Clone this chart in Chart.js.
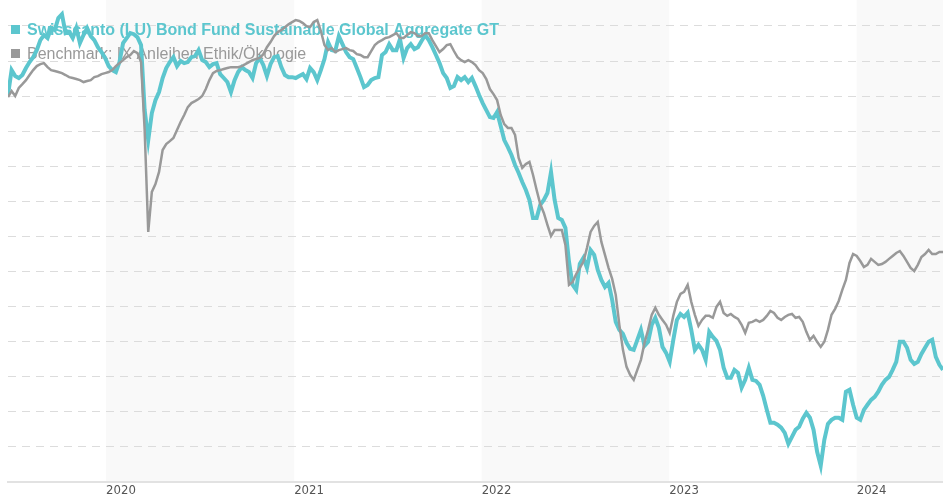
<!DOCTYPE html>
<html>
<head>
<meta charset="utf-8">
<script src="https://cdn.jsdelivr.net/npm/chart.js@4/dist/chart.umd.min.js"></script>
<style>
  html, body { margin: 0; padding: 0; background: #fff; }
  #wrap { position: relative; width: 943px; height: 500px; }
</style>
</head>
<body>
<div id="wrap"><canvas id="chart-1"></canvas></div>
<script>
// weekly observations, first one on 2019-06-24
const startDate = '2019-06-24';
const tickYears = [2020, 2021, 2022, 2023, 2024];
const shadedYears = [2020, 2022, 2024];
const fundLabel = 'Swisscanto (LU) Bond Fund Sustainable Global Aggregate GT';
const benchLabel = 'Benchmark: IX Anleihen Ethik/Ökologie';

// performance in % since start
const fund = [
  0.06, 1.48, 1.14, 1.03, 1.20, 1.60, 1.94, 2.22, 2.62, 3.19,
  3.48, 3.31, 3.88, 3.76, 4.45, 4.67, 3.59, 3.65, 3.31, 3.88,
  3.02, 3.48, 3.88, 3.42, 3.19, 2.79, 2.51, 2.17, 1.71, 1.48,
  1.37, 1.94, 3.02, 3.31, 3.59, 3.53, 3.36, 2.91, -0.80, -2.51,
  -0.97, -0.23, 0.23, 1.03, 1.60, 1.94, 2.22, 1.71, 2.00, 1.88,
  1.94, 2.22, 2.28, 2.62, 2.05, 1.94, 1.65, 1.82, 1.88, 1.25,
  1.03, 0.80, 0.23, 0.91, 1.37, 1.65, 1.48, 1.37, 1.03, 1.88,
  2.17, 1.77, 1.14, 1.82, 2.22, 2.28, 1.65, 1.20, 1.08, 1.08,
  1.03, 1.14, 1.25, 0.97, 1.60, 1.37, 0.91, 1.48, 2.11, 3.08,
  2.62, 2.57, 3.42, 2.96, 2.51, 2.22, 2.11, 1.60, 1.08, 0.51,
  0.63, 0.91, 1.03, 1.08, 2.34, 2.51, 2.96, 2.62, 2.62, 3.25,
  2.17, 2.74, 2.96, 2.68, 2.79, 3.14, 3.48, 3.19, 2.79, 2.34,
  1.88, 1.31, 1.03, 0.46, 0.57, 1.08, 0.91, 1.08, 0.80, 1.03,
  0.57, 0.06, -0.40, -0.80, -1.20, -1.25, -0.91, -1.71, -2.51, -2.91,
  -3.36, -3.93, -4.39, -4.90, -5.36, -5.93, -6.95, -6.95, -6.21, -5.93,
  -5.53, -4.33, -5.93, -6.95, -7.07, -7.52, -9.46, -10.77, -11.06, -9.58,
  -9.23, -9.80, -8.78, -9.06, -9.92, -10.49, -10.89, -10.66, -11.63, -12.88,
  -13.34, -13.57, -14.08, -14.42, -14.48, -13.91, -13.34, -14.25, -14.02, -13.05,
  -12.65, -13.22, -14.31, -14.65, -15.16, -13.91, -12.77, -12.43, -12.60, -12.37,
  -13.34, -14.48, -14.19, -14.48, -15.05, -13.45, -13.74, -13.97, -14.48, -15.50,
  -16.07, -16.07, -15.62, -15.79, -16.64, -16.19, -15.50, -16.19, -16.25, -16.47,
  -17.10, -17.90, -18.64, -18.64, -18.75, -18.92, -19.21, -19.84, -19.44, -19.04,
  -18.87, -18.41, -18.07, -18.35, -19.04, -20.29, -21.09, -19.61, -18.70, -18.47,
  -18.35, -18.35, -18.47, -16.87, -16.76, -17.61, -18.35, -18.47, -17.90, -17.61,
  -17.33, -17.16, -16.87, -16.47, -16.19, -16.02, -15.62, -15.16, -14.02, -14.02,
  -14.36, -15.05, -15.28, -15.16, -14.71, -14.36, -14.02, -13.91, -14.88, -15.33,
  -15.62
];

const bench = [
  -0.06, 0.29, 0.00, 0.46, 0.68, 0.91, 1.20, 1.48, 1.71, 1.82,
  1.88, 1.65, 1.48, 1.43, 1.37, 1.31, 1.20, 1.08, 1.03, 0.97,
  0.91, 0.80, 0.86, 0.91, 1.08, 1.14, 1.25, 1.31, 1.37, 1.48,
  1.71, 1.88, 2.05, 2.22, 2.34, 2.57, 2.45, 1.94, -1.94, -7.75,
  -5.47, -5.02, -4.33, -3.08, -2.74, -2.57, -2.39, -1.94, -1.48, -1.08,
  -0.63, -0.40, -0.29, -0.17, 0.00, 0.40, 0.91, 1.31, 1.43, 1.48,
  1.54, 1.60, 1.65, 1.65, 1.65, 1.71, 1.82, 1.94, 2.05, 2.11,
  2.17, 2.39, 2.79, 3.08, 3.42, 3.65, 3.76, 3.93, 4.10, 4.22,
  4.33, 4.28, 4.16, 3.99, 3.93, 4.22, 4.33, 3.71, 2.91, 2.62,
  2.74, 2.51, 2.62, 2.68, 2.74, 2.62, 2.57, 2.39, 2.34, 2.22,
  2.22, 2.57, 2.91, 3.08, 3.19, 3.31, 3.36, 3.48, 3.59, 3.31,
  3.31, 3.48, 3.65, 3.59, 3.42, 3.42, 3.59, 3.59, 3.19, 2.85,
  2.51, 2.68, 2.91, 2.96, 2.57, 2.22, 2.05, 1.94, 2.05, 1.94,
  1.77, 1.48, 1.31, 0.97, 0.40, 0.11, -0.23, -1.08, -1.60, -1.82,
  -1.82, -2.22, -3.53, -4.10, -3.88, -3.76, -4.50, -5.36, -6.16, -6.67,
  -7.35, -7.98, -7.64, -7.64, -7.64, -8.49, -10.77, -10.60, -10.15, -9.80,
  -9.46, -8.66, -7.75, -7.41, -7.18, -8.32, -9.06, -9.80, -10.43, -11.34,
  -13.05, -14.48, -15.45, -15.90, -16.19, -15.62, -15.05, -14.08, -13.34, -12.48,
  -12.08, -12.48, -12.77, -13.05, -13.51, -12.54, -11.74, -11.29, -11.17, -10.77,
  -11.74, -12.48, -13.11, -12.77, -12.54, -12.54, -12.65, -12.03, -11.74, -12.37,
  -12.54, -12.43, -12.60, -12.71, -13.05, -13.51, -12.94, -12.88, -12.77, -12.88,
  -12.77, -12.54, -12.26, -12.37, -12.65, -12.77, -12.60, -12.48, -12.43, -12.65,
  -12.60, -12.88, -13.45, -13.91, -13.68, -14.02, -14.31, -14.02, -13.34, -12.48,
  -12.14, -11.69, -11.06, -10.49, -9.52, -9.01, -9.12, -9.41, -9.75, -9.63,
  -9.29, -9.46, -9.63, -9.58, -9.46, -9.29, -9.12, -8.95, -8.84, -9.12,
  -9.46, -9.80, -9.98, -9.63, -9.18, -9.01, -8.78, -9.01, -9.01, -8.89,
  -8.89
];

const WEEK = 7 * 24 * 3600 * 1000;
const t0 = Date.parse(startDate + 'T00:00:00Z');
const dates = fund.map((_, i) => t0 + i * WEEK);
const toPoints = arr => arr.map((v, i) => ({ x: dates[i], y: v }));

const TEAL = '#5cc6ce';
const GREY = '#999999';

// light bands behind every second year
const yearBands = {
  id: 'yearBands',
  beforeDraw(chart) {
    const { ctx, chartArea, scales } = chart;
    ctx.save();
    ctx.fillStyle = '#f9f9f9';
    shadedYears.forEach(y => {
      let a = scales.x.getPixelForValue(Date.UTC(y, 0, 1));
      let b = scales.x.getPixelForValue(Date.UTC(y + 1, 0, 1));
      a = Math.max(a, chartArea.left);
      b = Math.min(b, chartArea.right);
      if (b > a) ctx.fillRect(a, chartArea.top, b - a, chartArea.bottom - chartArea.top);
    });
    ctx.restore();
  }
};

// legend written straight into the plot, under the lines
const topLegend = {
  id: 'topLegend',
  beforeDatasetsDraw(chart) {
    const ctx = chart.ctx;
    ctx.save();
    ctx.textBaseline = 'alphabetic';
    ctx.textAlign = 'left';
    ctx.fillStyle = TEAL;
    ctx.fillRect(11, 25, 9, 9);
    ctx.font = 'bold 16px "Liberation Sans", Arial, sans-serif';
    ctx.fillText(fundLabel, 27, 35);
    ctx.fillStyle = GREY;
    ctx.fillRect(11, 49, 9, 9);
    ctx.font = '16px "Liberation Sans", Arial, sans-serif';
    ctx.fillText(benchLabel, 27, 59);
    ctx.restore();
  }
};

const ctx = document.getElementById('chart-1');
new Chart(ctx, {
  type: 'line',
  data: {
    datasets: [{
      label: benchLabel,
      data: toPoints(bench),
      borderColor: GREY,
      borderWidth: 2.5,
      pointRadius: 0,
      tension: 0
    }, {
      label: fundLabel,
      data: toPoints(fund),
      borderColor: TEAL,
      borderWidth: 4,
      pointRadius: 0,
      tension: 0
    }]
  },
  options: {
    responsive: true,
    maintainAspectRatio: false,
    animation: false,
    layout: { padding: { left: 8, right: 0, top: 0, bottom: 0 } },
    scales: {
      x: {
        type: 'linear',
        min: dates[0],
        max: dates[dates.length - 1],
        afterBuildTicks: scale => {
          scale.ticks = tickYears.map(y => ({ value: Date.UTC(y, 0, 1) }));
        },
        grid: { display: false, drawTicks: false },
        border: { display: true, color: '#e2e2e2', width: 2 },
        ticks: {
          autoSkip: false,
          maxRotation: 0,
          align: 'start',
          padding: 2,
          color: '#555',
          font: { family: '"Liberation Sans Narrow", "DejaVu Sans Condensed", Arial, sans-serif', size: 13, lineHeight: 1.1 },
          callback: v => new Date(v).getUTCFullYear()
        }
      },
      y: {
        min: -22,
        max: 5.48,
        ticks: { display: false, stepSize: 2 },
        grid: {
          drawTicks: false,
          lineWidth: 1,
          color: c => (c.tick && c.tick.value > -21 && c.tick.value < 5) ? '#dcdcdc' : 'rgba(0,0,0,0)'
        },
        border: { display: false, dash: [8, 6] }
      }
    },
    plugins: {
      legend: { display: false },
      tooltip: { enabled: false }
    }
  },
  plugins: [yearBands, topLegend]
});
</script>
</body>
</html>
